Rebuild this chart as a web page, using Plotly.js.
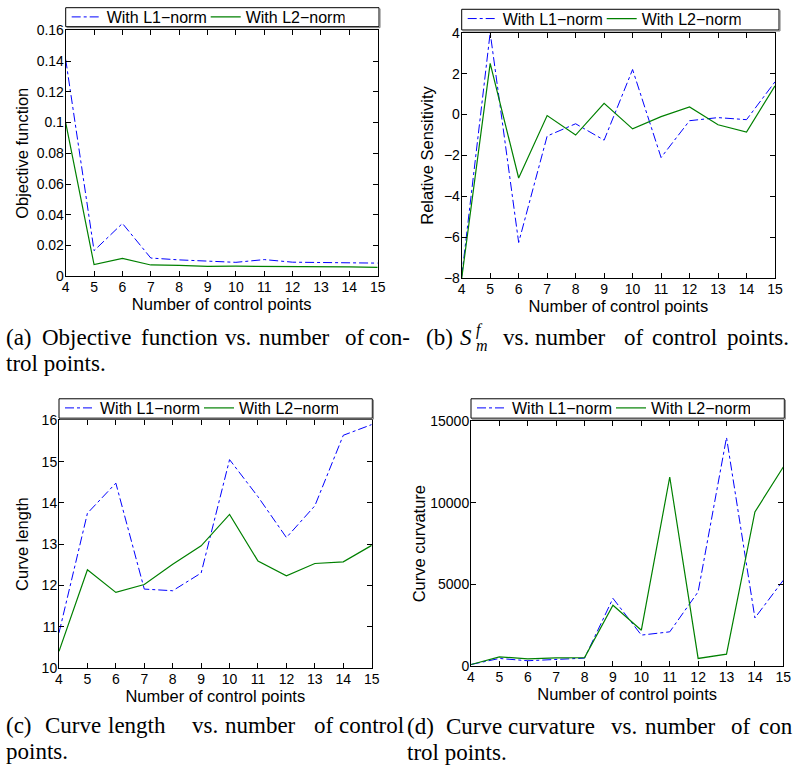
<!DOCTYPE html>
<html><head><meta charset="utf-8">
<script src="https://cdn.plot.ly/plotly-3.0.1.min.js"></script>
<style>html,body{margin:0;padding:0;background:#fff}</style>
</head><body><div id="chart" style="width:794px;height:772px"></div>
<script>
// ---------- data ----------
const controlPoints = [4,5,6,7,8,9,10,11,12,13,14,15];
const seriesNames = ['With L1\u2212norm','With L2\u2212norm'];

const objectiveL1 = [0.141,0.0167,0.0344,0.0119,0.0107,0.0101,0.0091,0.0109,0.0092,0.0090,0.0088,0.0086];
const objectiveL2 = [0.100,0.0076,0.0117,0.0074,0.0071,0.0065,0.0066,0.0065,0.0065,0.0065,0.0062,0.0058];

const sensitivityL1 = [-7.9,4.0,-6.25,-1.05,-0.45,-1.25,2.2,-2.1,-0.3,-0.15,-0.25,1.6];
const sensitivityL2 = [-8.0,2.5,-3.1,-0.05,-1.0,0.55,-0.7,-0.1,0.37,-0.5,-0.85,1.4];

const lengthL1 = [10.85,13.75,14.48,11.91,11.87,12.3,15.05,14.15,13.16,13.93,15.64,15.9];
const lengthL2 = [10.4,12.38,11.83,12.02,12.51,12.96,13.72,12.59,12.23,12.53,12.57,12.97];

const curvatureL1 = [100,470,330,390,490,4150,1900,2100,4550,14000,2950,5260];
const curvatureL2 = [100,570,450,510,520,3730,2200,11580,470,730,9440,12190];

const xTickVals = [4,5,6,7,8,9,10,11,12,13,14,15];
const objTickVals = [0,0.02,0.04,0.06,0.08,0.1,0.12,0.14,0.16];
const objTickText = ['0','0.02','0.04','0.06','0.08','0.1','0.12','0.14','0.16'];
const sensTickVals = [-8,-6,-4,-2,0,2,4];
const sensTickText = ['\u22128','\u22126','\u22124','\u22122','0','2','4'];
const lenTickVals = [10,11,12,13,14,15,16];
const lenTickText = ['10','11','12','13','14','15','16'];
const curvTickVals = [0,5000,10000,15000];
const curvTickText = ['0','5000','10000','15000'];

const xTitle = 'Number of control points';
const yTitles = ['Objective function','Relative Sensitivity','Curve length','Curve curvature'];

const captionA1 = ['(a)','Objective','function','vs.','number','of','con-'];
const captionA2 = 'trol points.';
const captionB1 = ['(b)','vs.','number','of','control','points.'];
const captionC1 = ['(c)','Curve','length','vs.','number','of','control'];
const captionC2 = 'points.';
const captionD1 = ['(d)','Curve','curvature','vs.','number','of','con'];
const captionD2 = 'trol points.';

// ---------- styling / layout ----------
const W = 794, H = 772;
const SANS = 'Liberation Sans, Arial, Helvetica, sans-serif';
const SERIF = 'Liberation Serif, Times New Roman, serif';
const px = v => v / W;
const py = v => 1 - v / H;

function xAxis(l, r, anchor) {
  return {domain:[px(l),px(r)], anchor:anchor, range:[4,15], tickvals:xTickVals,
    showline:true, linecolor:'#000', linewidth:1, mirror:'ticks', ticks:'inside', ticklen:5,
    tickcolor:'#000', showgrid:false, zeroline:false, automargin:false, ticklabelstandoff:-2,
    tickfont:{family:SANS,size:14,color:'#000'},
    title:{text:xTitle, font:{family:SANS,size:16.5,color:'#000'}, standoff:0}};
}
function yAxis(t, b, anchor, range, vals, text, title, standoff) {
  return {domain:[py(b),py(t)], anchor:anchor, range:range, tickvals:vals, ticktext:text,
    showline:true, linecolor:'#000', linewidth:1, mirror:'ticks', ticks:'inside', ticklen:5,
    tickcolor:'#000', showgrid:false, zeroline:false, automargin:false, ticklabelstandoff:-2,
    tickfont:{family:SANS,size:14,color:'#000'},
    title:{text:title, font:{family:SANS,size:16.5,color:'#000'}, standoff:standoff}};
}
// legend frames (box in pixels: left, top, right, bottom)
const legendFrames = [[65.7,6.7,379,25.7],[461.7,8.3,779,29],[59,398.3,372.3,417.7],[471,398.3,784.3,417.7]];
function legendBox(f) {
  return {x:px(f[0]+1), y:py((f[1]+f[3])/2), xanchor:'left', yanchor:'middle', orientation:'h',
    borderwidth:0, bgcolor:'rgba(0,0,0,0)',
    font:{family:SANS,size:16,color:'#000'}, entrywidth:94, entrywidthmode:'pixels',
    itemwidth:30, tracegroupgap:0};
}
const shapes = [];
legendFrames.forEach(f => {
  shapes.push({type:'rect', xref:'paper', yref:'paper', x0:px(f[0]), x1:px(f[2]), y0:py(f[3]), y1:py(f[1]),
    line:{color:'#000', width:1}, fillcolor:'#fff', layer:'above'});
  shapes.push({type:'path', xref:'paper', yref:'paper',
    path:'M' + px(f[0]+1) + ',' + py(f[3]+1) + 'L' + px(f[2]+1) + ',' + py(f[3]+1) + 'L' + px(f[2]+1) + ',' + py(f[1]+1),
    line:{color:'#777', width:1}, layer:'above'});
});

const L1style = {color:'#0000ff', width:1, dash:'dashdot'};
const L2style = {color:'#008000', width:1.2};

function pair(ys1, ys2, xa, ya, leg) {
  return [
    {x:controlPoints, y:ys1, xaxis:xa, yaxis:ya, type:'scatter', mode:'lines', name:seriesNames[0], line:L1style, legend:leg},
    {x:controlPoints, y:ys2, xaxis:xa, yaxis:ya, type:'scatter', mode:'lines', name:seriesNames[1], line:L2style, legend:leg}
  ];
}

const data = [].concat(
  pair(objectiveL1, objectiveL2, 'x', 'y', 'legend'),
  pair(sensitivityL1, sensitivityL2, 'x2', 'y2', 'legend2'),
  pair(lengthL1, lengthL2, 'x3', 'y3', 'legend3'),
  pair(curvatureL1, curvatureL2, 'x4', 'y4', 'legend4')
);

// caption annotations
const annotations = [];
function words(list, xs, yPix, size) {
  list.forEach((w, i) => annotations.push({xref:'paper', yref:'paper', x:px(xs[i]), y:py(yPix),
    xanchor:'left', yanchor:'middle', text:w, showarrow:false,
    font:{family:SERIF,size:size||23,color:'#000'}}));
}
words(captionA1, [4,40,139.3,222.7,256.7,343.3,366.7], 337);
words([captionA2], [4], 363);
words(captionB1, [424,501,533.3,621.7,650,725], 337);
// S^f_m
annotations.push({xref:'paper',yref:'paper',x:px(458),y:py(337),xanchor:'left',yanchor:'middle',
  text:'<i>S</i>',showarrow:false,font:{family:SERIF,size:23,color:'#000'}});
annotations.push({xref:'paper',yref:'paper',x:px(474),y:py(329),xanchor:'left',yanchor:'middle',
  text:'<i>f</i>',showarrow:false,font:{family:SERIF,size:16,color:'#000'}});
annotations.push({xref:'paper',yref:'paper',x:px(474),y:py(345),xanchor:'left',yanchor:'middle',
  text:'<i>m</i>',showarrow:false,font:{family:SERIF,size:16,color:'#000'}});
words(captionC1, [4,43,106,190,223,312,337], 725);
words([captionC2], [4], 751);
words(captionD1, [405,444.3,506,609,643,729,757], 726);
words([captionD2], [405], 752);

const layout = {
  width:W, height:H, autosize:false,
  margin:{l:0,r:0,t:0,b:0,pad:0},
  paper_bgcolor:'#fff', plot_bgcolor:'#fff',
  font:{family:SANS,color:'#000'},
  xaxis: xAxis(65.7, 377.7, 'y'),
  yaxis: yAxis(29.3, 275.7, 'x', [0,0.16], objTickVals, objTickText, yTitles[0], 3),
  xaxis2: xAxis(461.7, 775, 'y2'),
  yaxis2: yAxis(31.7, 277.7, 'x2', [-8,4], sensTickVals, sensTickText, yTitles[1], 6),
  xaxis3: xAxis(59, 371.7, 'y3'),
  yaxis3: yAxis(420, 667.7, 'x3', [10,16], lenTickVals, lenTickText, yTitles[2], 8),
  xaxis4: xAxis(471, 783.3, 'y4'),
  yaxis4: yAxis(420.7, 666, 'x4', [0,15000], curvTickVals, curvTickText, yTitles[3], 0),
  legend: legendBox(legendFrames[0]),
  legend2: legendBox(legendFrames[1]),
  legend3: legendBox(legendFrames[2]),
  legend4: legendBox(legendFrames[3]),
  shapes: shapes,
  annotations: annotations,
  showlegend: true
};

Plotly.newPlot('chart', data, layout, {staticPlot:true, displayModeBar:false});
</script>
</body></html>
